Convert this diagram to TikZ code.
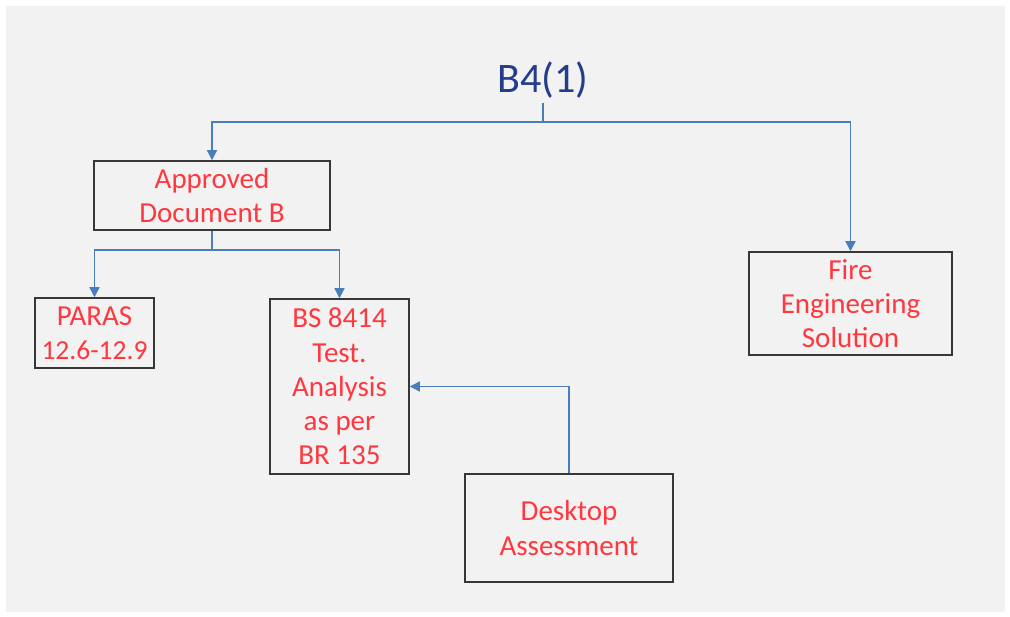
\documentclass[tikz,border=0pt]{standalone}
\usepackage{fontspec}
\setmainfont{Carlito}
\usetikzlibrary{arrows.meta}
\definecolor{bgc}{RGB}{242,242,242}
\definecolor{txtred}{RGB}{255,56,64}
\definecolor{ttlblue}{RGB}{35,60,140}
\definecolor{conblue}{RGB}{74,126,187}
\definecolor{boxline}{RGB}{55,55,55}
\tikzset{
  box/.style={draw=boxline, line width=1.5pt, text=txtred, align=center,
    inner sep=0pt, font=\fontsize{29}{34.3}\selectfont},
  conn/.style={draw=conblue, line width=1.3pt},
  arr/.style={conn, -{Triangle[length=10pt,width=10pt]}}
}
\begin{document}
\begin{tikzpicture}[x=1pt,y=-1pt]
\useasboundingbox (0,0) rectangle (1010,617);
\fill[bgc] (6,6) rectangle (1005,612);
\node[text=ttlblue, font=\fontsize{42}{50}\selectfont] (title) at (543,80) {B4(1)};
\node[box, minimum width=236pt, minimum height=69pt] (appr) at (212,195.5) {Approved\\Document B};
\node[box, minimum width=119pt, minimum height=70pt] (paras) at (94.5,333) {PARAS\\{\fontsize{27.5}{34.3}\selectfont 12.6-12.9}};
\node[box, minimum width=139pt, minimum height=175pt] (bs) at (339.5,386.5) {BS 8414\\Test.\\Analysis\\as per\\BR 135};
\node[box, minimum width=208pt, minimum height=108pt] (desk) at (569,528) {Desktop\\Assessment};
\node[box, minimum width=203pt, minimum height=103pt] (fire) at (850.5,303.5) {Fire\\Engineering\\Solution};
\coordinate (t) at (543,103);
\coordinate (j) at (543,122);
\coordinate (b) at (212,250);
\draw[conn] (t) -- (j);
\draw[arr] (j) -| (appr.north);
\draw[arr] (j) -| (fire.north);
\draw[conn] (appr.south) -- (b);
\draw[arr] (b) -| (paras.north);
\draw[arr] (b) -| (bs.north);
\draw[arr] (desk.north) |- (bs.east);
\end{tikzpicture}
\end{document}
